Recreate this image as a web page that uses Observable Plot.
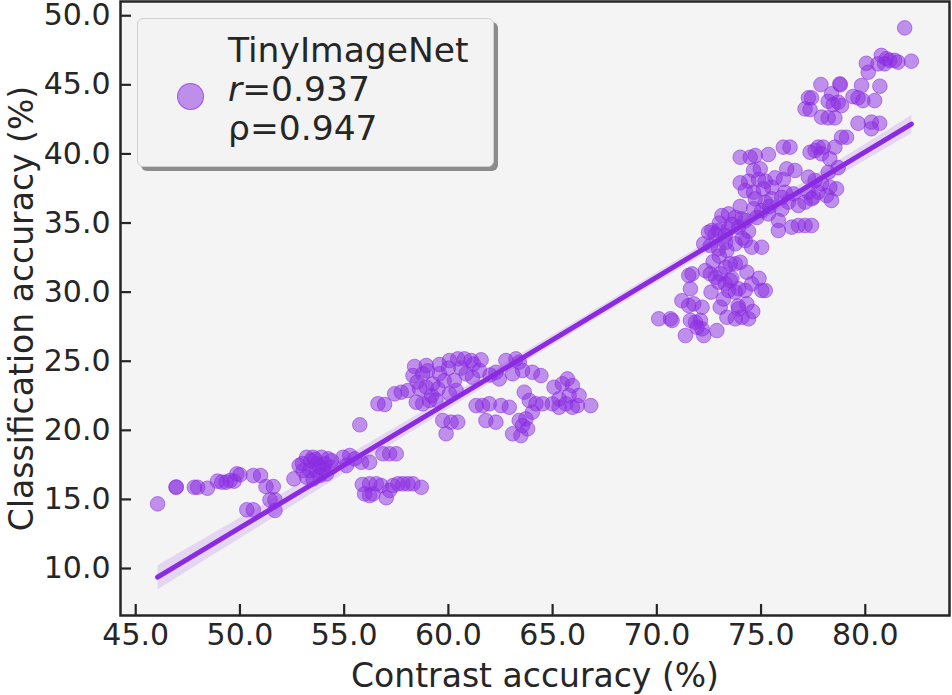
<!DOCTYPE html>
<html><head><meta charset="utf-8">
<script src="https://cdn.jsdelivr.net/npm/d3@7"></script>
<script src="https://cdn.jsdelivr.net/npm/@observablehq/plot@0.6"></script>
<style>
body{margin:0;background:#fff;font-family:"DejaVu Sans",sans-serif;}
#wrap{position:relative;width:952px;height:695px;}
#legend{position:absolute;left:137px;top:18px;width:357px;height:149px;box-sizing:border-box;background:#f3f3f3;border:1.5px solid #d0d0d0;border-radius:6px;box-shadow:4px 4px 0 #8c8c8c;}
#lmark{position:absolute;left:39px;top:64px;width:25px;height:25px;border-radius:50%;background:rgba(138,43,226,0.5);border:1.5px solid rgba(138,43,226,0.6);}
#ltext{position:absolute;left:90px;top:12px;font-size:34.5px;line-height:39px;color:#262626;white-space:nowrap;}
</style></head>
<body><div id="wrap"><div id="chart"></div>
<div id="legend"><div id="lmark"></div><div id="ltext">TinyImageNet<br><i>r</i>=0.937<br>ρ=0.947</div></div></div>
<script>
const seriesName = "TinyImageNet";
const xTicks = [45,50,55,60,65,70,75,80];
const yTicks = [10,15,20,25,30,35,40,45,50];
const contrast = [
46.05,46.93,46.95,47.81,47.97,48.44,48.92,49.13,49.34,49.53,49.72,49.85,50.0,50.64,50.99,51.25,51.6,51.44,51.68,51.68,50.33,50.64,
52.59,52.84,53.2,53.51,53.91,54.23,53.03,53.35,53.67,53.99,54.39,53.2,53.51,53.83,54.15,53.67,54.07,53.4,53.8,54.95,55.27,55.51,55.83,56.22,55.11,56.86,57.18,57.5,
55.87,56.22,55.98,56.22,56.38,56.54,56.78,57.02,57.34,57.58,57.82,58.06,58.3,58.7,57.18,
55.75,56.62,56.94,57.42,57.74,58.06,58.38,58.94,59.57,58.3,58.77,58.46,58.77,59.09,58.62,58.94,59.25,59.57,60.05,60.45,60.77,61.09,61.57,60.29,60.05,60.37,
59.73,60.13,60.45,59.89,60.85,61.16,61.48,61.33,61.64,61.96,61.8,62.28,62.52,62.92,62.76,63.24,63.4,62.44,63.56,64.03,64.44,63.64,63.88,64.2,64.03,63.72,63.4,
63.08,63.48,63.8,63.56,64.52,65.07,65.47,65.71,65.95,66.27,64.99,65.31,65.63,65.95,66.19,65.31,65.79,66.83,63.08,62.28,
59.2,59.5,59.8,60.6,59.0,58.5,61.2,60.0,59.4,62.0,
70.09,70.65,70.73,71.37,71.61,71.85,72.09,71.93,72.17,72.25,72.88,71.2,71.53,71.77,71.61,71.69,72.33,72.57,72.81,73.04,72.96,73.28,73.52,73.44,73.76,73.92,
73.04,73.36,73.76,74.08,74.4,73.92,74.32,74.24,74.55,75.03,75.2,74.32,73.52,72.48,72.8,73.28,73.76,74.24,74.55,75.03,72.25,72.57,72.96,73.36,73.76,74.0,72.17,71.53,
74.0,74.48,74.72,75.35,76.07,76.39,77.35,77.59,77.9,78.3,78.54,78.86,79.1,74.64,74.96,76.23,76.63,74.0,74.4,74.88,75.2,75.67,76.07,74.24,74.64,75.11,75.51,76.15,76.55,
77.27,77.59,77.9,78.3,78.62,77.27,77.51,74.72,75.2,75.51,75.99,76.31,74.64,75.03,75.35,73.12,73.44,73.76,74.08,74.24,72.64,72.96,73.44,73.92,76.47,76.79,77.11,77.42,
75.83,75.83,77.74,78.14,78.38,76.79,77.11,77.42,
81.89,82.21,80.77,81.01,81.17,81.41,81.57,80.61,80.93,80.05,80.14,80.7,79.82,78.78,77.87,78.38,77.27,77.42,77.11,77.35,78.22,78.46,78.7,78.86,79.41,79.65,79.89,80.45,
77.9,78.22,78.54,79.65,80.29,80.29,80.69,77.74,77.98,78.22,78.7,78.8,
73.0,73.6,74.4,74.8,73.3,74.1,75.4,76.0,74.0,73.6,72.7,73.0,
73.2,73.9,74.6,72.6,74.9,73.3,53.6,54.4,53.0
];
const classification = [
14.68,15.88,15.9,15.88,15.88,15.81,16.32,16.25,16.25,16.37,16.32,16.85,16.78,16.73,16.73,15.93,15.93,14.97,14.97,14.2,14.25,14.25,
16.49,17.45,18.05,18.05,18.05,17.94,17.09,17.09,17.09,17.21,17.33,16.61,16.49,16.73,16.85,17.57,17.57,17.8,17.4,18.05,18.18,17.94,17.69,17.69,17.45,18.3,18.3,18.3,
16.08,16.13,15.4,15.28,15.4,16.13,16.0,15.12,16.0,16.13,16.13,16.13,16.13,15.88,15.64,
20.4,21.92,21.87,22.64,22.76,22.88,24.62,24.69,24.76,23.96,24.09,22.03,21.92,22.16,23.0,23.12,23.36,24.09,25.05,25.17,25.17,25.05,25.1,23.6,22.64,22.88,
20.71,20.59,20.59,19.75,24.09,23.84,24.33,21.79,21.79,21.92,20.71,20.59,21.79,21.67,25.05,25.17,24.93,23.72,24.33,24.2,23.96,22.76,22.16,21.92,21.31,20.83,20.71,
19.75,19.62,20.11,20.35,21.92,23.12,23.36,23.72,23.24,22.52,21.92,21.67,21.92,21.67,21.79,22.28,22.52,21.79,24.09,24.2,
22.5,23.0,23.6,24.5,24.3,23.5,24.8,24.5,22.2,24.0,
28.07,28.07,27.95,26.86,27.95,27.82,27.95,27.46,27.34,26.86,27.22,29.38,29.03,29.15,30.24,31.32,31.56,31.32,31.08,31.32,30.72,30.6,30.84,30.12,29.99,30.24,
28.91,28.18,28.07,28.18,28.07,28.79,29.15,30.12,30.6,30.12,30.12,31.44,32.05,34.33,34.22,34.1,33.5,33.73,33.25,33.25,33.5,33.37,33.13,33.01,32.05,32.16,28.91,31.2,
39.76,39.76,39.88,39.96,40.49,40.49,40.12,40.25,40.01,39.65,40.49,41.21,41.21,38.8,38.92,38.92,38.8,37.91,38.03,38.15,38.03,38.27,38.15,37.35,37.23,37.47,37.59,37.23,37.11,
38.32,38.08,37.84,37.59,37.47,37.23,36.86,36.75,36.51,36.75,36.86,36.51,36.03,35.9,35.66,35.54,35.66,35.42,35.3,35.18,34.46,34.46,34.58,34.7,34.7,34.82,34.82,34.82,
35.18,34.46,37.23,36.99,36.63,36.27,36.51,36.75,
49.12,46.71,47.13,46.89,46.77,46.77,46.64,46.52,46.52,46.56,45.91,44.9,44.95,45.07,45.02,44.35,44.06,44.06,43.26,43.21,43.81,43.57,43.74,43.5,44.15,44.06,43.86,43.86,
42.66,42.61,42.61,42.22,42.3,41.82,42.22,40.49,40.49,38.67,39.01,45.0,
35.0,34.9,34.4,35.4,33.6,33.9,36.2,36.0,36.2,31.0,32.2,32.6,
29.5,29.0,28.6,30.0,31.0,31.8,17.9,17.8,17.6
];
const data = contrast.map((x, i) => ({x, y: classification[i], series: seriesName}));
const W = 952, H = 695, mL = 120, mR = 3, mT = 1, mB = 80;
const plotW = W - mL - mR, plotH = H - mT - mB;
const color = "#8a2be2", ink = "#262626";
const chart = Plot.plot({
  width: W, height: H,
  marginLeft: mL, marginRight: mR, marginTop: mT, marginBottom: mB,
  style: {fontFamily: "DejaVu Sans", color: ink, background: "transparent"},
  x: {domain: [44.27, 84.04]},
  y: {domain: [6.6, 51.03]},
  marks: [
    Plot.frame({fill: "#f4f4f4"}),
    Plot.dot(data, {x: "x", y: "y", r: 7.3, fill: color, fillOpacity: 0.5, stroke: color, strokeOpacity: 0.55, strokeWidth: 1}),
    Plot.linearRegressionY(data, {x: "x", y: "y", stroke: color, strokeWidth: 5, strokeLinecap: "round", fill: color, fillOpacity: 0.15, ci: 0.95}),
    Plot.tickY(yTicks, {y: d => d, insetRight: plotW - 11, stroke: ink, strokeWidth: 2.2}),
    Plot.tickX(xTicks, {x: d => d, insetTop: plotH - 11, stroke: ink, strokeWidth: 2.2}),
    Plot.frame({stroke: ink, strokeWidth: 2.5}),
    Plot.axisX({ticks: xTicks, tickFormat: d => d.toFixed(1), tickSize: 0, tickPadding: 8, fontSize: 30, label: null}),
    Plot.axisY({ticks: yTicks, tickFormat: d => d.toFixed(1), tickSize: 0, tickPadding: 10, fontSize: 30, label: null}),
    Plot.text(["Contrast accuracy (%)"], {text: d => d, frameAnchor: "bottom", lineAnchor: "middle", dy: 61, fontSize: 33, fill: ink}),
    Plot.text(["Classification accuracy (%)"], {text: d => d, frameAnchor: "left", textAnchor: "middle", lineAnchor: "middle", dx: -98, rotate: -90, fontSize: 33, fill: ink})
  ]
});
document.getElementById("chart").appendChild(chart);
</script>
</body></html>
